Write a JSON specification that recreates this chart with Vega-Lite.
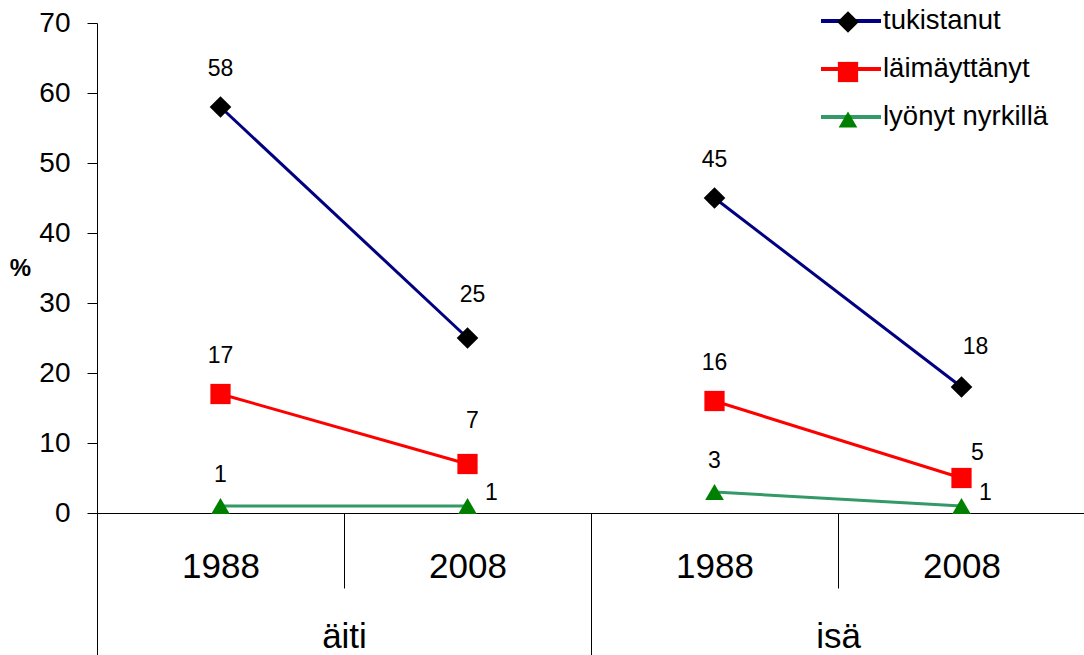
{
  "$schema": "https://vega.github.io/schema/vega-lite/v6.json",
  "width": 988,
  "height": 490,
  "autosize": {"type": "none"},
  "padding": {"left": 97, "top": 23, "right": 0, "bottom": 142},
  "background": "white",
  "config": {
    "view": {"stroke": null},
    "font": "Liberation Sans, Arial, sans-serif",
    "axis": {"domainColor": "#000000", "tickColor": "#000000", "labelColor": "#000000", "titleColor": "#000000", "grid": false, "labelFont": "Liberation Sans, Arial, sans-serif", "titleFont": "Liberation Sans, Arial, sans-serif"},
    "legend": {"labelFont": "Liberation Sans, Arial, sans-serif", "labelColor": "#000000", "padding": 0, "labelLimit": 400}
  },
  "data": {
    "values": [
      {"ryhma": "äiti", "vuosi": "1988", "kohta": "äiti 1988", "sarja": "tukistanut", "arvo": 58},
      {"ryhma": "äiti", "vuosi": "1988", "kohta": "äiti 1988", "sarja": "läimäyttänyt", "arvo": 17},
      {"ryhma": "äiti", "vuosi": "1988", "kohta": "äiti 1988", "sarja": "lyönyt nyrkillä", "arvo": 1},
      {"ryhma": "äiti", "vuosi": "2008", "kohta": "äiti 2008", "sarja": "tukistanut", "arvo": 25},
      {"ryhma": "äiti", "vuosi": "2008", "kohta": "äiti 2008", "sarja": "läimäyttänyt", "arvo": 7},
      {"ryhma": "äiti", "vuosi": "2008", "kohta": "äiti 2008", "sarja": "lyönyt nyrkillä", "arvo": 1},
      {"ryhma": "isä", "vuosi": "1988", "kohta": "isä 1988", "sarja": "tukistanut", "arvo": 45},
      {"ryhma": "isä", "vuosi": "1988", "kohta": "isä 1988", "sarja": "läimäyttänyt", "arvo": 16},
      {"ryhma": "isä", "vuosi": "1988", "kohta": "isä 1988", "sarja": "lyönyt nyrkillä", "arvo": 3},
      {"ryhma": "isä", "vuosi": "2008", "kohta": "isä 2008", "sarja": "tukistanut", "arvo": 18},
      {"ryhma": "isä", "vuosi": "2008", "kohta": "isä 2008", "sarja": "läimäyttänyt", "arvo": 5},
      {"ryhma": "isä", "vuosi": "2008", "kohta": "isä 2008", "sarja": "lyönyt nyrkillä", "arvo": 1}
    ]
  },
  "layer": [
    {
      "encoding": {
        "x": {
          "field": "kohta", "type": "nominal",
          "scale": {"type": "band", "domain": ["äiti 1988", "äiti 2008", "isä 1988", "isä 2008"], "paddingInner": 0, "paddingOuter": 0},
          "axis": {"orient": "bottom", "title": null, "labelExpr": "split(datum.label, ' ')[1]", "labelAngle": 0, "labelFontSize": 35, "labelBaseline": "middle", "tickBand": "extent", "tickSize": 75, "labelPadding": -22, "domainWidth": 1}
        },
        "y": {
          "field": "arvo", "type": "quantitative",
          "scale": {"domain": [0, 70], "nice": false},
          "axis": {"values": [0, 10, 20, 30, 40, 50, 60, 70], "title": "%", "titleAngle": 0, "titleFontWeight": "bold", "titleFontSize": 24, "titleX": -77, "titleY": 245, "titleAlign": "center", "titleBaseline": "middle", "labelFontSize": 28, "tickSize": 10, "labelPadding": 17, "grid": false}
        }
      },
      "layer": [
        {
          "mark": {"type": "line", "strokeWidth": 3},
          "encoding": {
            "stroke": {
              "field": "sarja", "type": "nominal",
              "sort": ["tukistanut", "läimäyttänyt", "lyönyt nyrkillä"],
              "scale": {"range": ["#000080", "#FF0000", "#339966"]},
              "legend": {"orient": "none", "legendX": 722, "legendY": -34, "title": null, "symbolType": "stroke", "symbolSize": 3600, "symbolStrokeWidth": 4, "labelFontSize": 27.5, "labelOffset": 0, "rowPadding": 2, "zindex": 0}
            },
            "detail": {"field": "ryhma"}
          }
        },
        {
          "mark": {"type": "point", "filled": true, "opacity": 1},
          "encoding": {
            "color": {
              "field": "sarja", "type": "nominal",
              "scale": {"domain": ["tukistanut", "läimäyttänyt", "lyönyt nyrkillä"], "range": ["#000000", "#FF0000", "#008000"]},
              "legend": {"orient": "none", "legendX": 739, "legendY": -13, "title": null, "labelFontSize": 10, "labelExpr": "''", "labelOffset": 0, "rowPadding": 22, "symbolOpacity": 1, "zindex": 1}
            },
            "shape": {
              "field": "sarja", "type": "nominal",
              "scale": {"domain": ["tukistanut", "läimäyttänyt", "lyönyt nyrkillä"], "range": ["diamond", "square", "triangle-up"]}
            },
            "size": {
              "field": "sarja", "type": "nominal",
              "scale": {"domain": ["tukistanut", "läimäyttänyt", "lyönyt nyrkillä"], "range": [470, 350, 430]}
            }
          }
        },
        {
          "transform": [{"filter": "datum.vuosi == '1988' && datum.sarja != 'lyönyt nyrkillä'"}],
          "mark": {"type": "text", "fontSize": 23, "color": "#000000", "dy": -38},
          "encoding": {"text": {"field": "arvo", "type": "quantitative"}}
        },
        {
          "transform": [{"filter": "datum.ryhma == 'äiti' && datum.vuosi == '2008' && datum.sarja != 'lyönyt nyrkillä'"}],
          "mark": {"type": "text", "fontSize": 23, "color": "#000000", "dx": 5, "dy": -43},
          "encoding": {"text": {"field": "arvo", "type": "quantitative"}}
        },
        {
          "transform": [{"filter": "datum.ryhma == 'isä' && datum.vuosi == '2008' && datum.sarja == 'tukistanut'"}],
          "mark": {"type": "text", "fontSize": 23, "color": "#000000", "dx": 14, "dy": -40},
          "encoding": {"text": {"field": "arvo", "type": "quantitative"}}
        },
        {
          "transform": [{"filter": "datum.ryhma == 'isä' && datum.vuosi == '2008' && datum.sarja == 'läimäyttänyt'"}],
          "mark": {"type": "text", "fontSize": 23, "color": "#000000", "dx": 16, "dy": -25},
          "encoding": {"text": {"field": "arvo", "type": "quantitative"}}
        },
        {
          "transform": [{"filter": "datum.vuosi == '1988' && datum.sarja == 'lyönyt nyrkillä'"}],
          "mark": {"type": "text", "fontSize": 23, "color": "#000000", "dy": -31},
          "encoding": {"text": {"field": "arvo", "type": "quantitative"}}
        },
        {
          "transform": [{"filter": "datum.vuosi == '2008' && datum.sarja == 'lyönyt nyrkillä'"}],
          "mark": {"type": "text", "fontSize": 23, "color": "#000000", "dx": 24, "dy": -13},
          "encoding": {"text": {"field": "arvo", "type": "quantitative"}}
        }
      ]
    },
    {
      "mark": {"type": "point", "opacity": 0},
      "encoding": {
        "x": {
          "field": "ryhma", "type": "nominal",
          "scale": {"type": "band", "domain": ["äiti", "isä"], "paddingInner": 0, "paddingOuter": 0},
          "axis": {"orient": "bottom", "title": null, "labelAngle": 0, "labelFontSize": 35, "labelBaseline": "middle", "tickBand": "extent", "tickSize": 142, "labelPadding": -19}
        }
      }
    }
  ],
  "resolve": {"scale": {"x": "independent"}}
}
